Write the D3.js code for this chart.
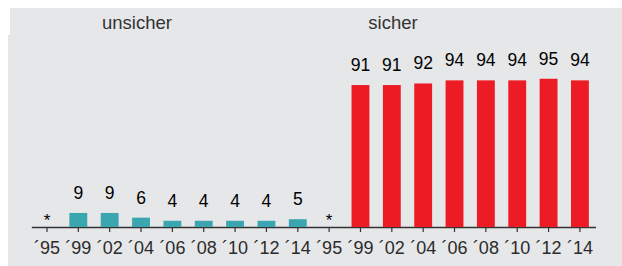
<!DOCTYPE html>
<html>
<head>
<meta charset="utf-8">
<script src="https://cdn.jsdelivr.net/npm/d3@7"></script>
<style>
  body { margin: 0; background: #fff; }
  svg { display: block; font-family: "Liberation Sans", Arial, sans-serif; }
</style>
</head>
<body>
<svg id="chart" width="622" height="266"></svg>
<script>
const groups = ['unsicher', 'sicher'];
const years = ['´95', '´99', '´02', '´04', '´06', '´08', '´10', '´12', '´14'];
const unsicherValues = [null, 9, 9, 6, 4, 4, 4, 4, 5];
const sicherValues = [null, 91, 91, 92, 94, 94, 94, 95, 94];
const groupColors = ['#3ba6af', '#ed1c24'];

const svg = d3.select('#chart');
const width = +svg.attr('width');
const height = +svg.attr('height');

// grey panel, header strip sits a touch to the right
svg.append('rect').attr('x', 10).attr('y', 8).attr('width', width - 10).attr('height', 27).attr('fill', '#e6e7e9');
svg.append('rect').attr('x', 8).attr('y', 35).attr('width', width - 8).attr('height', height - 35).attr('fill', '#e6e7e9');

const rows = [];
groups.forEach((g, gi) => {
  const vals = gi === 0 ? unsicherValues : sicherValues;
  years.forEach((yr, i) => rows.push({ key: `${g}-${i}`, group: g, gi, year: yr, value: vals[i] }));
});

const x = d3.scaleBand()
  .domain(rows.map((d) => d.key))
  .range([31.3, 595.6])
  .paddingInner(0.43)
  .paddingOuter(0.215);

const y = d3.scaleLinear().domain([0, 100]).range([227, 71]);

const axis = d3.axisBottom(x)
  .tickSize(5)
  .tickSizeOuter(0)
  .tickPadding(9)
  .tickFormat((k) => rows.find((d) => d.key === k).year);

const axisG = svg.append('g').attr('transform', `translate(0,${y(0)})`).call(axis);
axisG.select('.domain').attr('stroke', '#333').attr('stroke-width', 1.3);
axisG.selectAll('.tick line').attr('stroke', '#333').attr('stroke-width', 1.2);
axisG.selectAll('.tick text').attr('fill', '#2b2b2b').attr('font-size', '18px').attr('font-family', '"Liberation Sans", Arial, sans-serif');

svg.append('g')
  .selectAll('rect')
  .data(rows.filter((d) => d.value != null))
  .enter()
  .append('rect')
  .attr('x', (d) => x(d.key))
  .attr('y', (d) => y(d.value))
  .attr('width', x.bandwidth())
  .attr('height', (d) => y(0) - y(d.value))
  .attr('fill', (d) => groupColors[d.gi]);

svg.append('g')
  .selectAll('text')
  .data(rows)
  .enter()
  .append('text')
  .attr('x', (d) => x(d.key) + x.bandwidth() / 2)
  .attr('y', (d) => (d.value == null ? y(0) - 1 : y(d.value) - 14))
  .attr('text-anchor', 'middle')
  .attr('font-size', (d) => (d.value == null ? '17px' : '17.5px'))
  .attr('fill', '#000')
  .text((d) => (d.value == null ? '*' : d.value));

const headerX = [137, 393];
svg.append('g')
  .selectAll('text')
  .data(groups)
  .enter()
  .append('text')
  .attr('x', (d, i) => headerX[i])
  .attr('y', 29)
  .attr('text-anchor', 'middle')
  .attr('font-size', '18.5px')
  .attr('fill', '#333')
  .text((d) => d);
</script>
</body>
</html>
